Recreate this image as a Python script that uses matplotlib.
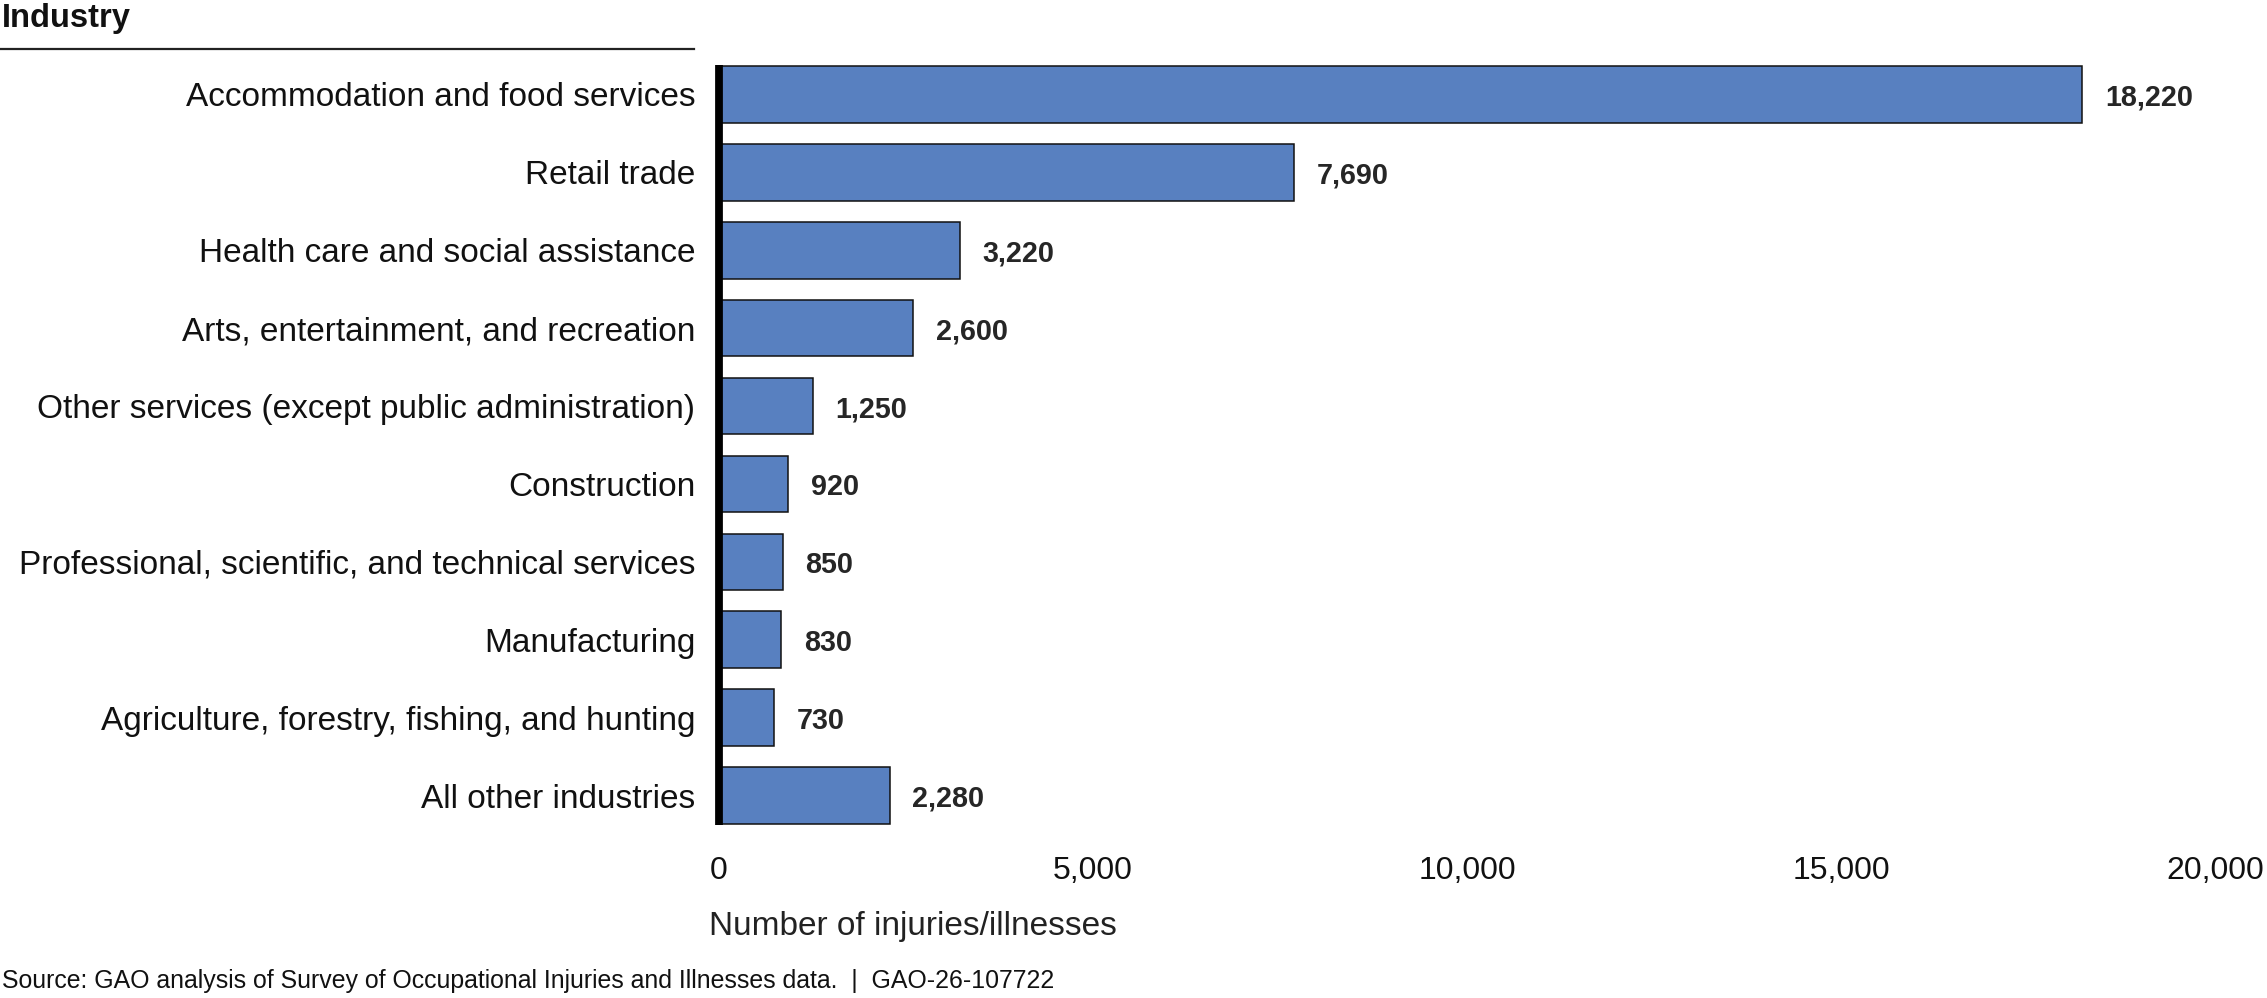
import matplotlib
matplotlib.use("Agg")
import matplotlib.pyplot as plt
from matplotlib.ticker import FuncFormatter

plt.rcParams['font.family'] = ['Liberation Sans', 'DejaVu Sans']

categories = [
    "Accommodation and food services",
    "Retail trade",
    "Health care and social assistance",
    "Arts, entertainment, and recreation",
    "Other services (except public administration)",
    "Construction",
    "Professional, scientific, and technical services",
    "Manufacturing",
    "Agriculture, forestry, fishing, and hunting",
    "All other industries",
]
values = [18220, 7690, 3220, 2600, 1250, 920, 850, 830, 730, 2280]
xticks = [0, 5000, 10000, 15000, 20000]

W, H = 2267, 998
fig = plt.figure(figsize=(W / 100, H / 100), dpi=100)
ax = fig.add_axes([719 / W, 1 - 825 / H, (2215 - 719) / W, (825 - 65) / H])

ypos = list(range(len(categories)))
ax.barh(ypos, values, height=0.727, color="#5880C0", edgecolor="#111111", linewidth=1.1, zorder=2)

ax.set_xlim(0, 20000)
ax.set_ylim(9.378, -0.378)
ax.set_yticks(ypos)
ax.set_yticklabels(categories, fontsize=24, color="#111111")
ax.set_xticks(xticks)
ax.xaxis.set_major_formatter(FuncFormatter(lambda v, p: f"{int(v):,}"))
ax.tick_params(axis="x", length=0, pad=22.5, labelsize=23, labelcolor="#111111")
ax.tick_params(axis="y", length=0, pad=17)

for s in ["top", "right", "bottom"]:
    ax.spines[s].set_visible(False)
ax.spines["left"].set_linewidth(5.6)
ax.spines["left"].set_color("black")
ax.spines["left"].set_capstyle("butt")
ax.spines["left"].set_zorder(3)

for y, v in zip(ypos, values):
    ax.annotate(f"{v:,}", xy=(v, y), xytext=(16.5, 0), textcoords="offset points",
                ha="left", va="center_baseline", fontsize=20.7, fontweight="bold", color="#262626")

fig.text(2 / W, 1 - 27.3 / H, "Industry", fontsize=23.5, fontweight="bold",
         ha="left", va="baseline", color="#111111")
fig.add_artist(plt.Line2D([0, 694 / W], [1 - 49.3 / H, 1 - 49.3 / H],
                          transform=fig.transFigure, color="#222222", linewidth=1.6))
fig.text(709 / W, 1 - 935.3 / H, "Number of injuries/illnesses", fontsize=24,
         ha="left", va="baseline", color="#222222")
fig.text(2 / W, 1 - 988.3 / H,
         "Source: GAO analysis of Survey of Occupational Injuries and Illnesses data.  |  GAO-26-107722",
         fontsize=17.9, ha="left", va="baseline", color="#111111")

fig.savefig("out.png", dpi=100)
